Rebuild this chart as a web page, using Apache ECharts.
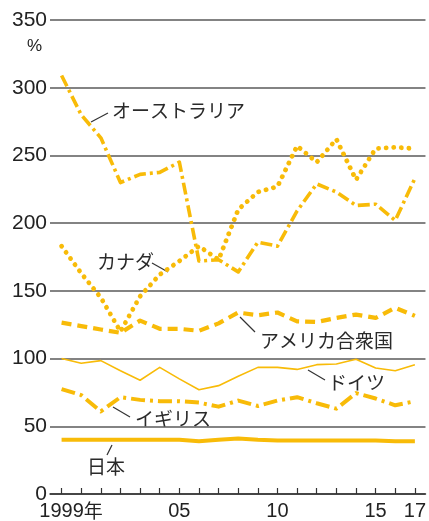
<!DOCTYPE html>
<html>
<head>
<meta charset="utf-8">
<script src="https://cdn.jsdelivr.net/npm/echarts@6/dist/echarts.min.js"></script>
<style>
html,body{margin:0;padding:0;background:#fff;}
#c{width:429px;height:521px;}
</style>
</head>
<body>
<div id="c"></div>
<script>
const years = [1999,2000,2001,2002,2003,2004,2005,2006,2007,2008,2009,2010,2011,2012,2013,2014,2015,2016,2017];
const australia = [309,280,263,230,236,237.5,245,172,173,164,186,183,209,229,223,213,214,202,233];
const canada    = [183,163,145,120,146,162,172,183,173,210,223,227,257,245,262,232,255,256,255];
const usa       = [126.5,124,121.5,119,128,122,122,120.5,126,134,132,134,127.5,127,130,132.5,130,137.5,131.5];
const germany   = [100,96.5,98.5,91,84,93.5,85,77,80,87,93.5,93.5,92,95.5,96,99.5,93,91,95.5];
const uk        = [77.5,73,61,71.5,69.5,68.5,68.5,67.5,64.5,69,65,69,71.5,67,63,74.5,70.5,65.5,68.5];
const japan     = [40,40,40,40,40,40,40,39,40,41,40,39.5,39.5,39.5,39.5,39.5,39.5,39,39];
const yTicks = [0,50,100,150,200,250,300,350];
const xLabelYears = [1999,2005,2010,2015,2017];

const C = '#F8BB08';
const pairs = arr => years.map((y,i)=>[y,arr[i]]);
function line(name, arr, width, type, cap){
  return {name, type:'line', data:pairs(arr), symbol:'none', silent:true,
    lineStyle:{color:C, width, type, cap:cap||'butt', join:'round'}};
}
const chart = echarts.init(document.getElementById('c'), null, {renderer:'canvas'});
const txt = {fill:'#2a2a2a', fontSize:19, fontFamily:'"Noto Sans CJK JP", sans-serif'};
function label(text, x, y){ return {type:'text', x, y, style:Object.assign({text, textVerticalAlign:'middle'}, txt)}; }
function leader(x1,y1,x2,y2){ return {type:'line', shape:{x1,y1,x2,y2}, style:{stroke:'#333', lineWidth:1.2}}; }

chart.setOption({
  animation:false,
  grid:{left:50, right:0, top:20, bottom:23.5},
  xAxis:{type:'value', min:1998.41, max:2017.54,
    axisLine:{show:true, lineStyle:{color:'#333', width:1.5}},
    axisTick:{show:true, inside:true, length:6, customValues:years, lineStyle:{color:'#333', width:1.2}},
    splitLine:{show:false},
    axisLabel:{customValues:xLabelYears, margin:7, color:'#222', fontSize:20,
      fontFamily:'"Liberation Sans", Arial, sans-serif',
      formatter:v=> v===1999 ? '{p|年}{a|1999}{b|年}' : String(v).slice(2),
      rich:{p:{color:'rgba(0,0,0,0)', fontSize:19, fontFamily:'"Noto Sans CJK JP"'},
            a:{fontSize:20, color:'#222', fontFamily:'"Liberation Sans", Arial, sans-serif'},
            b:{fontSize:19, color:'#222', fontFamily:'"Noto Sans CJK JP"'}}}
  },
  yAxis:{type:'value', min:0, max:350, interval:50,
    axisLine:{show:false}, axisTick:{show:false},
    splitLine:{show:true, lineStyle:{color:'#5a5a5a', width:1.5}},
    axisLabel:{margin:3, color:'#222', fontSize:21, fontFamily:'"Liberation Sans", Arial, sans-serif',
      customValues:yTicks}
  },
  series:[
    line('日本', japan, 4, 'solid'),
    line('イギリス', uk, 4, [14,5,3,5]),
    line('ドイツ', germany, 1.6, 'solid'),
    line('アメリカ合衆国', usa, 4.2, [10,6]),
    line('カナダ', canada, 4.8, [0.1,7.5], 'round'),
    line('オーストラリア', australia, 3.6, [12,4,3,4])
  ],
  graphic:[
    {type:'text', x:27, y:46, style:{text:'%', fontSize:17, fill:'#222', textVerticalAlign:'middle', fontFamily:'"Liberation Sans", Arial, sans-serif'}},
    label('オーストラリア', 112, 111), leader(91,122,108,113),
    label('カナダ', 97, 262), leader(152,263,168,272),
    label('アメリカ合衆国', 260, 341), leader(240,317,255,332),
    label('ドイツ', 328, 383), leader(308,370,325,380),
    label('イギリス', 135, 419), leader(113,407,130,417),
    label('日本', 87, 467), leader(112,445,107,455)
  ]
});
</script>
</body>
</html>
